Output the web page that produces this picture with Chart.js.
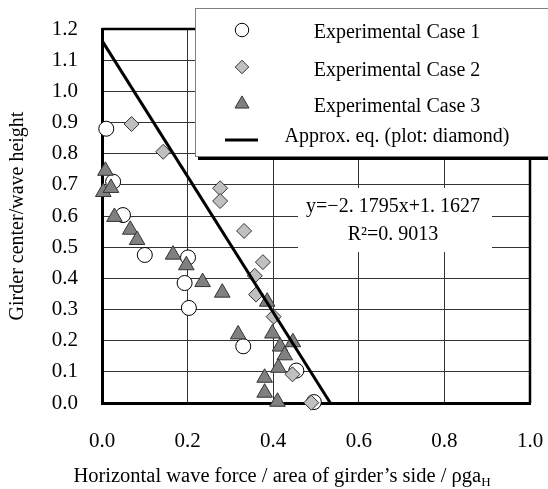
<!DOCTYPE html>
<html>
<head>
<meta charset="utf-8">
<script src="https://cdn.jsdelivr.net/npm/chart.js@4"></script>
<style>
  body { margin: 0; background: #fff; }
  #wrap { width: 548px; height: 489px; }
</style>
</head>
<body>
<div id="wrap"><canvas id="chart" width="548" height="489"></canvas></div>
<script>
// values
const case1X = [0.01, 0.026, 0.049, 0.100, 0.201, 0.193, 0.203, 0.330, 0.454, 0.495];
const case1Y = [0.88, 0.71, 0.603, 0.475, 0.467, 0.385, 0.305, 0.182, 0.104, 0.003];

const case2X = [0.069, 0.143, 0.276, 0.276, 0.332, 0.376, 0.357, 0.360, 0.401, 0.445, 0.489];
const case2Y = [0.895, 0.806, 0.689, 0.648, 0.552, 0.452, 0.408, 0.348, 0.277, 0.092, 0.001];

const case3X = [0.008, 0.003, 0.021, 0.029, 0.066, 0.082, 0.166, 0.197, 0.235, 0.281,
                0.318, 0.386, 0.398, 0.416, 0.446, 0.427, 0.412, 0.380, 0.380, 0.410];
const case3Y = [0.745, 0.677, 0.690, 0.597, 0.556, 0.523, 0.476, 0.442, 0.388, 0.354,
                0.220, 0.325, 0.223, 0.181, 0.195, 0.153, 0.113, 0.081, 0.033, 0.004];

// approx. line endpoints (y=-2.1795x+1.1627)
const fitX = [0, 0.5335];
const fitY = [1.1627, 0];

const xTitle = "Horizontal wave force / area of girder\u2019s side / \u03c1ga";
const xTitleSub = "H";
const yTitle = "Girder center/wave height";
const legendLabels = ["Experimental Case 1", "Experimental Case 2", "Experimental Case 3", "Approx. eq. (plot: diamond)"];
const eqLines = ["y=\u22122. 1795x+1. 1627", "R\u00b2=0. 9013"];

const serif = "'Liberation Serif', serif";

function toPoints(xs, ys) {
  return xs.map((x, i) => ({x, y: ys[i]}));
}

const circleStyle = {pointStyle: "circle", radius: 7.5, fill: "#ffffff", stroke: "#000000"};
const diamondStyle = {pointStyle: "rectRot", radius: 7.5, fill: "#c0c0c0", stroke: "#333333"};
const triStyle = {pointStyle: "triangle", radius: 9, fill: "#808080", stroke: "#333333"};

const overlay = {
  id: "overlay",
  beforeDatasetsDraw(chart) {
    const {ctx, chartArea: a} = chart;
    ctx.save();
    // top and right frame
    ctx.strokeStyle = "#000";
    ctx.lineWidth = 2.5;
    ctx.beginPath();
    ctx.moveTo(a.left, a.top);
    ctx.lineTo(a.right, a.top);
    ctx.lineTo(a.right, a.bottom);
    ctx.stroke();

    // equation label
    ctx.fillStyle = "#fff";
    ctx.fillRect(298, 188, 194, 64);
    ctx.fillStyle = "#000";
    ctx.font = "20px " + serif;
    ctx.textAlign = "center";
    ctx.textBaseline = "middle";
    ctx.fillText(eqLines[0], 393, 207);
    ctx.fillText(eqLines[1], 393, 235);
    ctx.restore();
  },
  afterDraw(chart) {
    const ctx = chart.ctx;
    ctx.save();
    // legend box with shadow
    ctx.fillStyle = "#000";
    ctx.fillRect(198, 156, 360, 4);
    ctx.fillStyle = "#fff";
    ctx.fillRect(195, 8, 360, 149);
    ctx.strokeStyle = "#808080";
    ctx.lineWidth = 1;
    ctx.strokeRect(195.5, 8.5, 360, 148);

    const styles = [circleStyle, diamondStyle, triStyle];
    const markerY = [30, 67, 104];
    styles.forEach((s, i) => {
      ctx.fillStyle = s.fill;
      ctx.strokeStyle = s.stroke;
      ctx.lineWidth = 1;
      Chart.helpers.drawPoint(ctx, {pointStyle: s.pointStyle, radius: s.radius * 0.9, borderWidth: 1, rotation: 0}, 242, markerY[i]);
    });
    ctx.strokeStyle = "#000";
    ctx.lineWidth = 3;
    ctx.beginPath();
    ctx.moveTo(225, 140);
    ctx.lineTo(258, 140);
    ctx.stroke();

    ctx.fillStyle = "#000";
    ctx.font = "20px " + serif;
    ctx.textAlign = "center";
    ctx.textBaseline = "middle";
    const textY = [33, 71, 107, 137];
    legendLabels.forEach((t, i) => ctx.fillText(t, 397, textY[i]));

    // x axis title with subscript
    ctx.font = "20.5px " + serif;
    const wMain = ctx.measureText(xTitle).width;
    ctx.font = "13px " + serif;
    const wSub = ctx.measureText(xTitleSub).width;
    const x0 = 282 - (wMain + wSub) / 2;
    ctx.textAlign = "left";
    ctx.textBaseline = "alphabetic";
    ctx.font = "20.5px " + serif;
    ctx.fillText(xTitle, x0, 482);
    ctx.font = "13px " + serif;
    ctx.fillText(xTitleSub, x0 + wMain, 486);
    ctx.restore();
  }
};

new Chart(document.getElementById("chart"), {
  type: "scatter",
  data: {
    datasets: [
      {
        label: legendLabels[3],
        type: "line",
        data: toPoints(fitX, fitY),
        borderColor: "#000",
        borderWidth: 3,
        pointRadius: 0,
        fill: false,
        clip: false,
        order: 0,
      },
      {
        label: legendLabels[2],
        data: toPoints(case3X, case3Y),
        pointStyle: triStyle.pointStyle,
        pointRadius: triStyle.radius,
        backgroundColor: triStyle.fill,
        borderColor: triStyle.stroke,
        borderWidth: 1,
        clip: false,
        order: 1,
      },
      {
        label: legendLabels[1],
        data: toPoints(case2X, case2Y),
        pointStyle: diamondStyle.pointStyle,
        pointRadius: diamondStyle.radius,
        backgroundColor: diamondStyle.fill,
        borderColor: diamondStyle.stroke,
        borderWidth: 1,
        clip: false,
        order: 2,
      },
      {
        label: legendLabels[0],
        data: toPoints(case1X, case1Y),
        pointStyle: circleStyle.pointStyle,
        pointRadius: circleStyle.radius,
        backgroundColor: circleStyle.fill,
        borderColor: circleStyle.stroke,
        borderWidth: 1,
        clip: false,
        order: 3,
      },
    ],
  },
  options: {
    responsive: false,
    animation: false,
    layout: {padding: {left: 0, top: 29, right: 18, bottom: 0}},
    plugins: {
      legend: {display: false},
      tooltip: {enabled: false},
    },
    scales: {
      x: {
        type: "linear",
        min: 0,
        max: 1,
        afterFit: s => {
          s.height = 86;
          s.paddingLeft = 0;
          s.paddingRight = 0;
        },
        ticks: {
          stepSize: 0.2,
          padding: 26,
          color: "#000",
          font: {family: serif, size: 21},
          callback: v => v.toFixed(1),
        },
        grid: {color: "#333", lineWidth: 1, drawTicks: false},
        border: {color: "#000", width: 3},
      },
      y: {
        type: "linear",
        min: 0,
        max: 1.2,
        afterFit: s => {
          s.width = 102;
          s.paddingTop = 0;
          s.paddingBottom = 0;
        },
        ticks: {
          stepSize: 0.1,
          padding: 24,
          color: "#000",
          font: {family: serif, size: 21},
          callback: v => v.toFixed(1),
        },
        grid: {color: "#333", lineWidth: 1, drawTicks: false},
        border: {color: "#000", width: 3},
        title: {
          display: true,
          text: yTitle,
          color: "#000",
          font: {family: serif, size: 20},
          padding: {top: 6, bottom: 0},
        },
      },
    },
  },
  plugins: [overlay],
});
</script>
</body>
</html>
